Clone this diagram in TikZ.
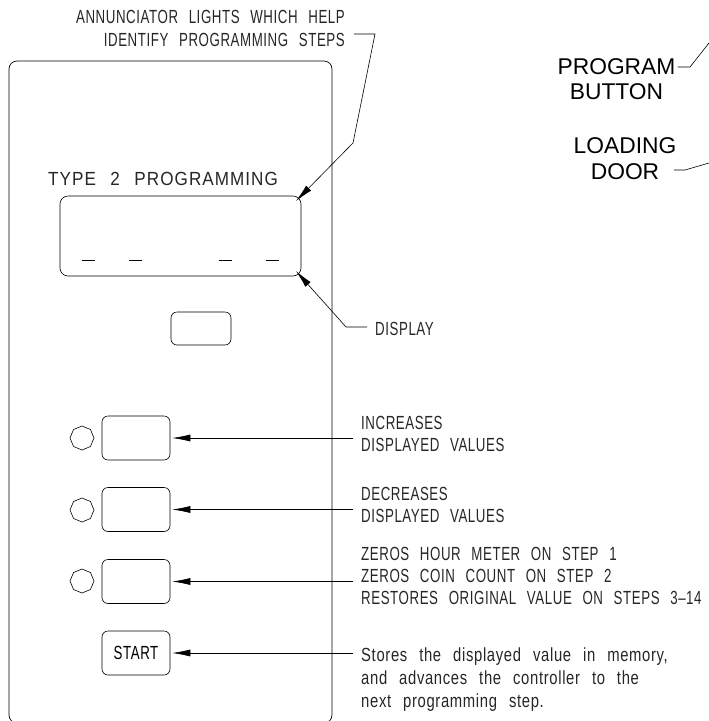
\documentclass[tikz,border=0pt]{standalone}
\usepackage{fontspec}
\usepackage{tikz}
\usetikzlibrary{arrows.meta,shapes.geometric}
\setmainfont{Liberation Sans}
\newfontfamily\cadfont[FakeStretch=0.70,LetterSpace=3,WordSpace=2.5]{Liberation Sans}
\newfontfamily\lowerfont[FakeStretch=0.78,LetterSpace=3.5,WordSpace=2.5]{Liberation Sans}
\newfontfamily\titlefont[FakeStretch=0.9,LetterSpace=5.5,WordSpace=2.5]{Liberation Sans}

\tikzset{
  keybox/.style={draw, rounded corners=6pt, minimum width=68pt, minimum height=44pt, inner sep=0pt, line width=0.6pt},
  lamp/.style={draw, regular polygon, regular polygon sides=8, shape border rotate=22.5, minimum size=24pt, inner sep=0pt, line width=0.6pt},
  note/.style={font=\cadfont\fontsize{19}{22.4}\selectfont, align=left, inner xsep=8pt, inner ysep=0pt, anchor=west, text=black!85},
  leader/.style={line width=0.6pt},
  pointer/.style={line width=0.6pt, {Latex[length=18pt,width=7pt]}-}
}

\begin{document}
\begin{tikzpicture}[x=1pt,y=-1pt]
   \useasboundingbox (0,0) rectangle (709,721);
   \clip (0,0) rectangle (709,721);

   % panel
   \draw[line width=0.7pt, rounded corners=8pt] (9,723) rectangle (332,61);

   \node[font=\titlefont\fontsize{19}{19}\selectfont, anchor=base west, inner sep=0pt, text=black!85] (title) at (48,185) {TYPE 2 PROGRAMMING};

   % display with its four dashes
   \node[draw, rounded corners=8pt, minimum width=241pt, minimum height=80pt, inner sep=0pt, line width=0.6pt] (display) at (180.5,236) {};
   \foreach \x in {82,129,219,266}
   {
      \draw[line width=0.5pt] (\x,260) -- (\x+13,260);
   }

   \node[keybox, minimum width=60pt, minimum height=33pt] (small) at (201,328.5) {};

   % buttons and lamps
   \node[keybox] (inc) at (136,438) {};
   \node[keybox] (dec) at (136,509.5) {};
   \node[keybox] (zero) at (136,581.5) {};
   \node[keybox, font=\cadfont\fontsize{19}{19}\selectfont] (start) at (136,653) {START};
   \node[lamp] (lampinc) at (82,438) {};
   \node[lamp] (lampdec) at (82,510) {};
   \node[lamp] (lampzero) at (82,581) {};

   % notes
   \node[note] (noteinc) at (353,434) {INCREASES\\DISPLAYED VALUES};
   \node[note] (notedec) at (353,505) {DECREASES\\DISPLAYED VALUES};
   \node[note] (notezero) at (353,576) {ZEROS HOUR METER ON STEP 1\\ZEROS COIN COUNT ON STEP 2\\RESTORES ORIGINAL VALUE ON STEPS 3–14};
   \node[note, anchor=north west, font=\lowerfont\fontsize{19}{22.8}\selectfont] (notestart) at (353,648) {Stores the displayed value in memory,\\and advances the controller to the\\next programming step.};
   \node[note, anchor=west] (notedisp) at (367,329) {DISPLAY};
   \node[note, anchor=north east, align=right] (noteann) at (353,10.5) {ANNUNCIATOR LIGHTS WHICH HELP\\IDENTIFY PROGRAMMING STEPS};

   \foreach \k/\y/\n in {inc/438/noteinc,dec/509.5/notedec,zero/581.5/notezero,start/653/notestart}
   {
      \coordinate (\n end) at (353,\y);
      \draw[pointer, shorten <=2pt] (\k.east) -- (\n end);
   }

   % bent leaders to the display
   \coordinate (anntop) at (375,34);
   \coordinate (annstub) at (354,34);
   \coordinate (annbend) at (353,143);
   \coordinate (anntip) at (296,201);
   \draw[leader] (annstub) -- (anntop) -- (annbend);
   \draw[pointer] (anntip) -- (annbend);
   \coordinate (disptip) at (296,271);
   \coordinate (dispbend) at (346,327);
   \draw[pointer] (disptip) -- (dispbend) -- (notedisp.west |- dispbend);

   % labels on the right
   \node[font=\fontsize{22.8}{25}\selectfont, align=center, inner sep=0pt] (prog) at (616.5,79) {PROGRAM\\BUTTON};
   \node[font=\fontsize{22.8}{26}\selectfont, align=center, inner sep=0pt] (door) at (625,158.5) {LOADING\\DOOR};
   \coordinate (progbend) at (690,67);
   \coordinate (progend) at (709,43);
   \coordinate (doorstart) at (674,170);
   \coordinate (doorbend) at (685,170);
   \coordinate (doorend) at (709,163);
   \draw[leader] (prog.east |- progbend) ++(2,0) -- (progbend) -- (progend);
   \draw[leader] (doorstart) -- (doorbend) -- (doorend);
\end{tikzpicture}
\end{document}
